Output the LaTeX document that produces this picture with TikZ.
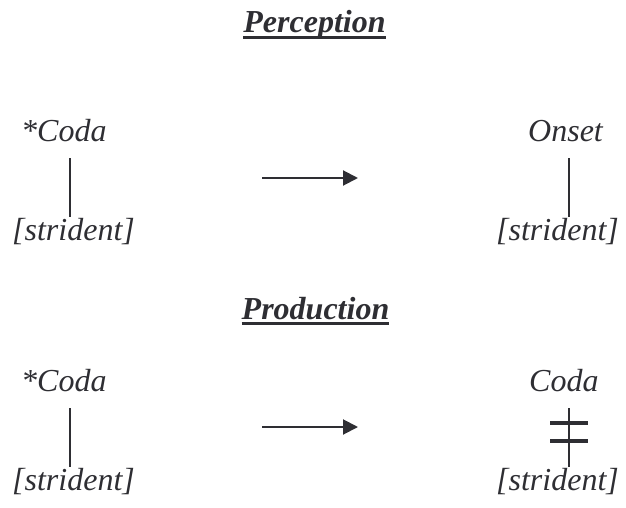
\documentclass[tikz,border=0pt]{standalone}
\usepackage{fontspec}
\setmainfont{Liberation Serif}
\usetikzlibrary{arrows.meta}
\definecolor{ink}{HTML}{2E2E33}
\tikzset{
  lbl/.style={inner sep=0pt, anchor=base west, text=ink, font=\fontsize{32}{38}\selectfont\itshape},
  ttl/.style={inner sep=0pt, anchor=base, text=ink, font=\fontsize{32}{38}\selectfont\bfseries\itshape},
  uline/.style={draw=ink, line width=3pt},
  assoc/.style={draw=ink, line width=1.4pt, shorten <=17pt, shorten >=23pt},
  arr/.style={draw=ink, line width=2pt, -{Triangle[length=15pt,width=15pt]}},
  bar/.style={draw=ink, line width=3.2pt}
}
\begin{document}
\begin{tikzpicture}[x=1pt,y=-1pt]
\useasboundingbox (0,0) rectangle (626,508);
% titles
\node[ttl] (perc) at (314.5,33) {Perception};
\draw[uline] ([yshift=-4.5pt]perc.base west) -- ([yshift=-4.5pt]perc.base east);
\node[ttl] (prod) at (315.5,319) {Production};
\draw[uline] ([yshift=-4.5pt]prod.base west) -- ([yshift=-4.5pt]prod.base east);
% guide x positions
\coordinate (gl) at (70,0);
\coordinate (gr) at (569,0);
% perception row
\node[lbl] (c1) at (21,141) {*Coda};
\node[lbl] (s1) at (12,240) {[strident]};
\node[lbl] (o1) at (528,141) {Onset};
\node[lbl] (s2) at (496,240) {[strident]};
\draw[assoc] (c1.base -| gl) -- (s1.base -| gl);
\draw[assoc] (o1.base -| gr) -- (s2.base -| gr);
\coordinate (a1s) at (262,178);
\coordinate (a1e) at (358,178);
\draw[arr] (a1s) -- (a1e);
% production row
\node[lbl] (c2) at (21,391) {*Coda};
\node[lbl] (s3) at (12,490) {[strident]};
\node[lbl] (c3) at (529,391) {Coda};
\node[lbl] (s4) at (496,490) {[strident]};
\draw[assoc] (c2.base -| gl) -- (s3.base -| gl);
\draw[assoc] (c3.base -| gr) -- (s4.base -| gr);
\coordinate (a2s) at (262,427);
\coordinate (a2e) at (358,427);
\draw[arr] (a2s) -- (a2e);
% delinking bars
\draw[bar] (550,423) -- (588,423);
\draw[bar] (550,441) -- (588,441);
\end{tikzpicture}
\end{document}
